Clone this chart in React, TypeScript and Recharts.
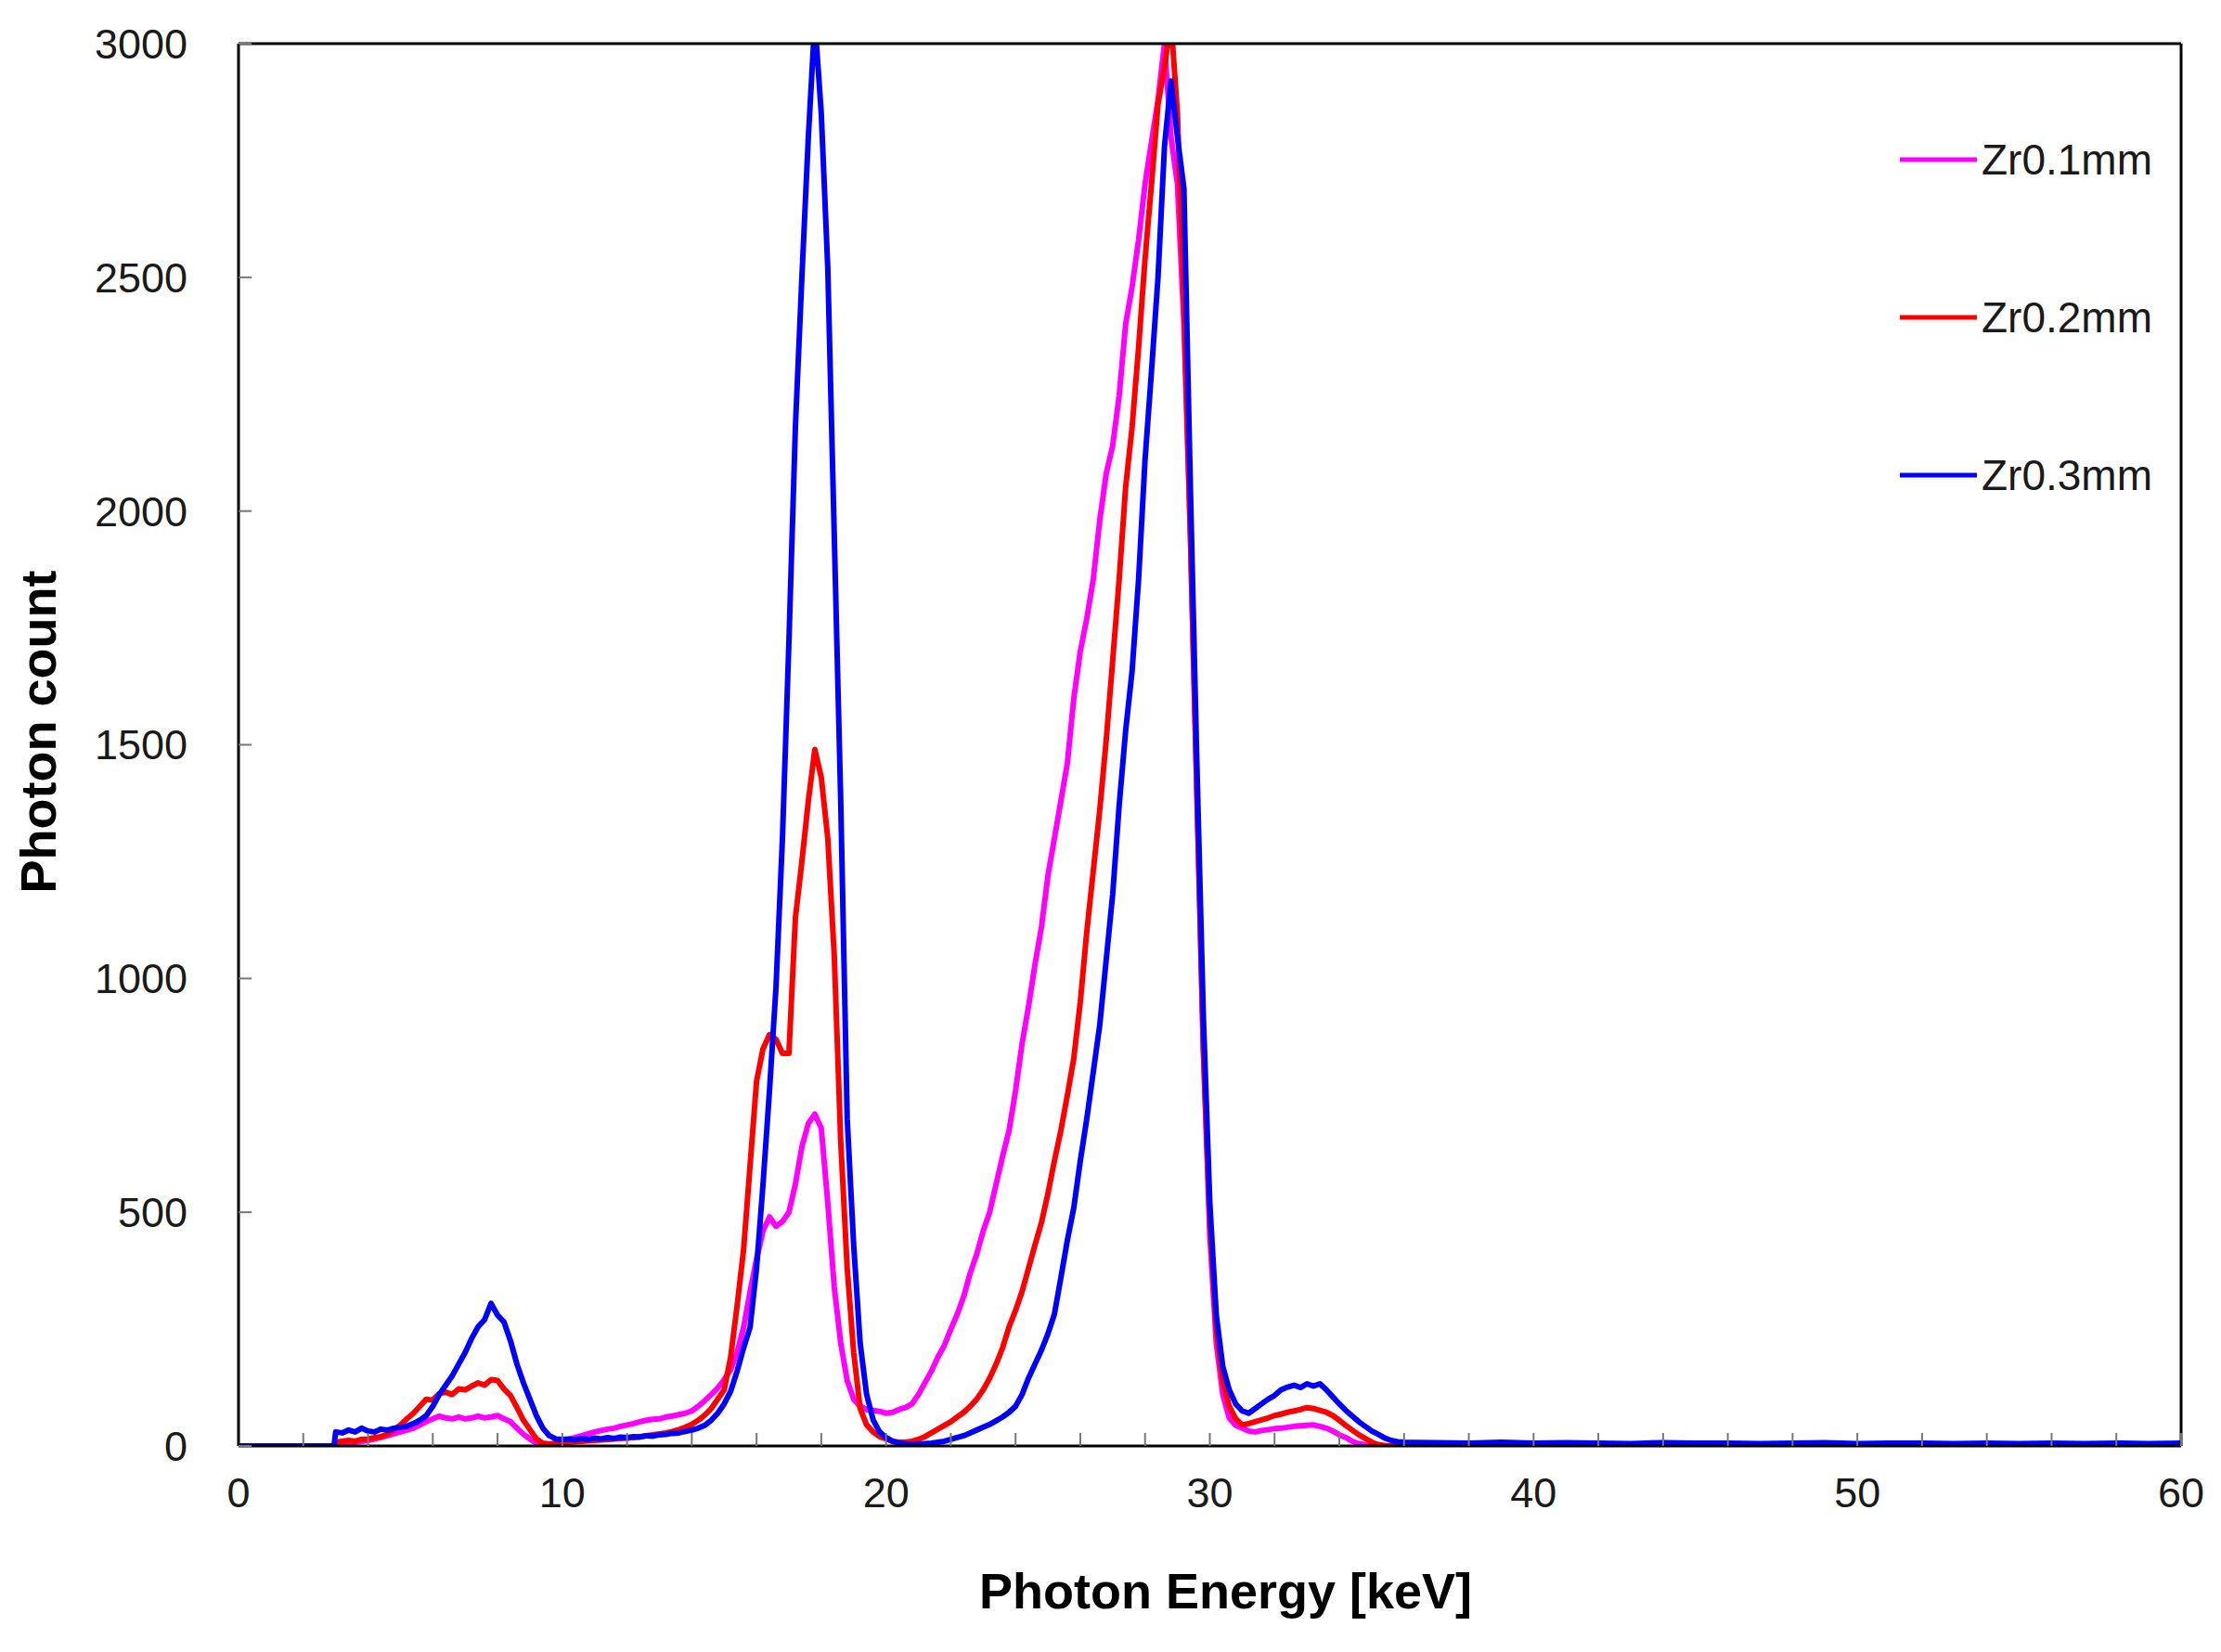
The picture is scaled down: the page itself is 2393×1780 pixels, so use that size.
import React from 'react';
import { LineChart, Line, XAxis, YAxis, Legend, ReferenceLine, Label } from 'recharts';

// Photon energy grid (keV), 0.2 keV bins between 3 and 36 keV
const energyKeV = [
  0, 1, 2, 2.95,
  3, 3.2, 3.4, 3.6, 3.8, 4, 4.2, 4.4, 4.6, 4.8,
  5, 5.2, 5.4, 5.6, 5.8, 6, 6.2, 6.4, 6.6, 6.8,
  7, 7.2, 7.4, 7.6, 7.8, 8, 8.2, 8.4, 8.6, 8.8,
  9, 9.2, 9.4, 9.6, 9.8, 10, 10.2, 10.4, 10.6, 10.8,
  11, 11.2, 11.4, 11.6, 11.8, 12, 12.2, 12.4, 12.6, 12.8,
  13, 13.2, 13.4, 13.6, 13.8, 14, 14.2, 14.4, 14.6, 14.8,
  15, 15.2, 15.4, 15.6, 15.8, 16, 16.2, 16.4, 16.6, 16.8,
  17, 17.2, 17.4, 17.6, 17.8, 18, 18.2, 18.4, 18.6, 18.8,
  19, 19.2, 19.4, 19.6, 19.8, 20, 20.2, 20.4, 20.6, 20.8,
  21, 21.2, 21.4, 21.6, 21.8, 22, 22.2, 22.4, 22.6, 22.8,
  23, 23.2, 23.4, 23.6, 23.8, 24, 24.2, 24.4, 24.6, 24.8,
  25, 25.2, 25.4, 25.6, 25.8, 26, 26.2, 26.4, 26.6, 26.8,
  27, 27.2, 27.4, 27.6, 27.8, 28, 28.2, 28.4, 28.6, 28.8,
  29, 29.2, 29.4, 29.6, 29.8, 30, 30.2, 30.4, 30.6, 30.8,
  31, 31.2, 31.4, 31.6, 31.8, 32, 32.2, 32.4, 32.6, 32.8,
  33, 33.2, 33.4, 33.6, 33.8, 34, 34.2, 34.4, 34.6, 34.8,
  35, 35.2, 35.4, 35.6, 35.8, 36,
  37, 38, 39, 40, 41, 42, 43, 44, 45, 46, 47, 48,
  49, 50, 51, 52, 53, 54, 55, 56, 57, 58, 59, 60,
];

// Zr 0.1 mm filter
const zr01 = [
  0, 0, 0, 0,
  0, 4, 6, 8, 10, 12, 15, 18, 22, 26,
  30, 34, 38, 45, 52, 58, 64, 60, 58, 62,
  58, 60, 64, 60, 62, 65, 58, 52, 38, 25,
  15, 6, 3, 4, 6, 10, 14, 18, 22, 26,
  30, 33, 36, 38, 42, 45, 48, 52, 55, 57,
  58, 62, 64, 67, 70, 75, 85, 97, 110, 124,
  142, 163, 200, 254, 330, 400, 460, 490, 470, 480,
  500, 560, 640, 690, 710, 680, 520, 340, 220, 140,
  100, 85, 78, 76, 74, 70, 72, 78, 82, 90,
  110, 135, 160, 190, 215, 250, 282, 320, 370, 410,
  460, 500, 560, 620, 675, 760, 860, 940, 1030, 1110,
  1220, 1300, 1380, 1461, 1600, 1700, 1770, 1854, 1980, 2080,
  2140, 2247, 2400, 2480, 2580, 2700, 2790, 2880, 3000, 2800,
  2700, 2400, 1950, 1400, 850, 450, 220, 110, 60, 44,
  38, 32, 30, 33, 35, 37, 38, 40, 42, 43,
  44, 45, 42, 38, 32, 24, 18, 10, 5, 2,
  0, 0, 0, 0, 0, 0,
  2, 3, 2, 2, 3, 2, 2, 3, 2, 2, 2, 3,
  2, 2, 3, 2, 2, 2, 3, 2, 2, 2, 3, 2,
];

// Zr 0.2 mm filter
const zr02 = [
  0, 0, 0, 0,
  8, 10, 12, 10, 14, 15, 18, 20, 25, 35,
  45, 58, 70, 85, 100, 98, 112, 115, 110, 122,
  120, 128, 135, 130, 142, 140, 122, 108, 82, 55,
  35, 15, 6, 4, 5, 6, 8, 9, 10, 11,
  12, 13, 14, 15, 16, 17, 18, 20, 22, 24,
  26, 28, 31, 35, 40, 46, 55, 66, 80, 100,
  120, 190, 300, 420, 600, 780, 850, 880, 870, 840,
  840, 1130, 1250, 1380, 1490, 1430, 1300, 1050, 651, 380,
  200, 80, 45, 30, 20, 15, 10, 8, 8, 10,
  14, 20, 28, 36, 44, 52, 62, 72, 85, 100,
  120, 145, 175, 210, 255, 290, 330, 380, 430, 478,
  540, 610, 675, 750, 830, 950, 1100, 1230, 1360, 1510,
  1680, 1854, 2051, 2180, 2350, 2540, 2700, 2870, 2950, 3050,
  2850, 2450, 1950, 1400, 850, 480, 250, 140, 85, 58,
  45, 48, 52, 56, 60, 65, 68, 72, 75, 78,
  82, 80, 76, 72, 65, 55, 44, 34, 24, 16,
  8, 3, 1, 0, 0, 0,
  3, 4, 3, 4, 3, 3, 4, 3, 4, 3, 3, 4,
  3, 3, 4, 3, 3, 4, 3, 3, 4, 3, 3, 3,
];

// Zr 0.3 mm filter
const zr03 = [
  0, 0, 0, 0,
  30, 28, 34, 30, 38, 32, 30, 36, 34, 38,
  40, 42, 48, 55, 65, 85, 110, 130, 150, 175,
  200, 230, 255, 270, 305, 280, 265, 225, 175, 135,
  100, 65, 38, 22, 15, 14, 15, 13, 16, 14,
  17, 15, 18, 16, 19, 18, 20, 19, 22, 21,
  24, 25, 27, 28, 31, 34, 38, 44, 55, 70,
  90, 117, 160, 210, 254, 380, 560, 760, 980, 1300,
  1720, 2180, 2500, 2800, 3050, 2850, 2520, 1950, 1380, 700,
  430, 220, 110, 56, 30, 18, 10, 6, 4, 3,
  4, 5, 6, 8, 10, 14, 18, 22, 28, 34,
  40, 46, 54, 62, 72, 85, 110, 145, 175, 205,
  240, 282, 360, 440, 510, 610, 700, 800, 900, 1040,
  1180, 1370, 1530, 1658, 1854, 2110, 2300, 2500, 2780, 2920,
  2800, 2690, 2050, 1461, 920, 520, 280, 170, 120, 90,
  75, 70, 80, 90, 100, 108, 120, 126, 130, 125,
  133, 128, 133, 120, 105, 90, 76, 64, 52, 42,
  32, 25, 17, 12, 9, 8,
  7, 6, 8, 6, 7, 6, 5, 7, 6, 6, 5, 6,
  7, 5, 6, 6, 5, 6, 5, 6, 5, 6, 5, 6,
];

const seriesNames = ['Zr0.1mm', 'Zr0.2mm', 'Zr0.3mm'];
const seriesColors = ['#ff00ff', '#ff0000', '#0000ff'];

const xTicks = [0, 2, 4, 6, 8, 10, 12, 14, 16, 18, 20, 22, 24, 26, 28, 30, 32, 34, 36, 38, 40, 42, 44, 46, 48, 50, 52, 54, 56, 58, 60];
const yTicks = [0, 500, 1000, 1500, 2000, 2500, 3000];

const chartData = energyKeV.map((e, i) => ({
  e,
  zr01: zr01[i],
  zr02: zr02[i],
  zr03: zr03[i],
}));

const FONT = '"Liberation Sans", Arial, Helvetica, sans-serif';
const TEXT_COLOR = '#1a1a1a';

const XTick = (props: any) => {
  const { x, y, payload } = props;
  if (payload.value % 10 !== 0) return <g />;
  return (
    <text x={x} y={y} dy="0.71em" textAnchor="middle" fontSize={45} fontFamily={FONT} fill={TEXT_COLOR}>
      {payload.value}
    </text>
  );
};

const YTick = (props: any) => {
  const { x, y, payload } = props;
  return (
    <text x={x} y={y} dy="0.355em" textAnchor="end" fontSize={45} fontFamily={FONT} fill={TEXT_COLOR}>
      {payload.value}
    </text>
  );
};

const XTitle = (props: any) => {
  const vb = props.viewBox;
  return (
    <text
      x={vb.x + vb.width / 2 + 17}
      y={vb.y + 175}
      textAnchor="middle"
      fontSize={54}
      fontWeight="bold"
      fontFamily={FONT}
      fill="#000"
    >
      Photon Energy [keV]
    </text>
  );
};

const YTitle = (props: any) => {
  const vb = props.viewBox;
  const cx = 60;
  const cy = vb.y + vb.height / 2 - 14;
  return (
    <text
      x={cx}
      y={cy}
      transform={`rotate(-90, ${cx}, ${cy})`}
      textAnchor="middle"
      fontSize={54}
      fontWeight="bold"
      fontFamily={FONT}
      fill="#000"
    >
      Photon count
    </text>
  );
};

const LegendBox = (props: any) => {
  const payload = props.payload || [];
  return (
    <svg width={340} height={420}>
      {payload.map((p: any, i: number) => {
        const y = 32 + i * 170;
        return (
          <g key={p.value}>
            <line x1={7} x2={90} y1={y} y2={y} stroke={p.color} strokeWidth={5} />
            <text x={95} y={y} dy="0.355em" fontSize={46} fontFamily={FONT} fill={TEXT_COLOR}>
              {p.value}
            </text>
          </g>
        );
      })}
    </svg>
  );
};

export default function App() {
  return (
    <div style={{ position: 'absolute', left: 0, top: 0, background: '#fff' }}>
      <LineChart
        width={2393}
        height={1780}
        data={chartData}
        margin={{ top: 47, right: 43, bottom: 0, left: 0 }}
      >
        <XAxis
          dataKey="e"
          type="number"
          domain={[0, 60]}
          ticks={xTicks}
          interval={0}
          height={222}
          axisLine={{ stroke: '#000', strokeWidth: 3 }}
          tickLine={{ stroke: '#777', strokeWidth: 2 }}
          tickSize={-14}
          tickMargin={48}
          tick={(p: any) => <XTick {...p} />}
        >
          <Label content={(p: any) => <XTitle {...p} />} />
        </XAxis>
        <YAxis
          type="number"
          domain={[0, 3000]}
          ticks={yTicks}
          interval={0}
          allowDataOverflow
          width={257}
          axisLine={{ stroke: '#000', strokeWidth: 3 }}
          tickLine={{ stroke: '#777', strokeWidth: 2 }}
          tickSize={-14}
          tickMargin={69}
          tick={(p: any) => <YTick {...p} />}
        >
          <Label content={(p: any) => <YTitle {...p} />} />
        </YAxis>
        <Line
          type="linear"
          dataKey="zr01"
          name={seriesNames[0]}
          stroke={seriesColors[0]}
          strokeWidth={6}
          strokeLinejoin="round"
          dot={false}
          isAnimationActive={false}
        />
        <Line
          type="linear"
          dataKey="zr02"
          name={seriesNames[1]}
          stroke={seriesColors[1]}
          strokeWidth={6}
          strokeLinejoin="round"
          dot={false}
          isAnimationActive={false}
        />
        <Line
          type="linear"
          dataKey="zr03"
          name={seriesNames[2]}
          stroke={seriesColors[2]}
          strokeWidth={6}
          strokeLinejoin="round"
          dot={false}
          isAnimationActive={false}
        />
        <ReferenceLine y={3000} stroke="#000" strokeWidth={3} />
        <ReferenceLine x={60} stroke="#000" strokeWidth={3} />
        <Legend
          layout="vertical"
          align="center"
          verticalAlign="middle"
          wrapperStyle={{ left: 2040, top: 140, width: 340, height: 420 }}
          content={(p: any) => <LegendBox {...p} />}
        />
      </LineChart>
    </div>
  );
}
